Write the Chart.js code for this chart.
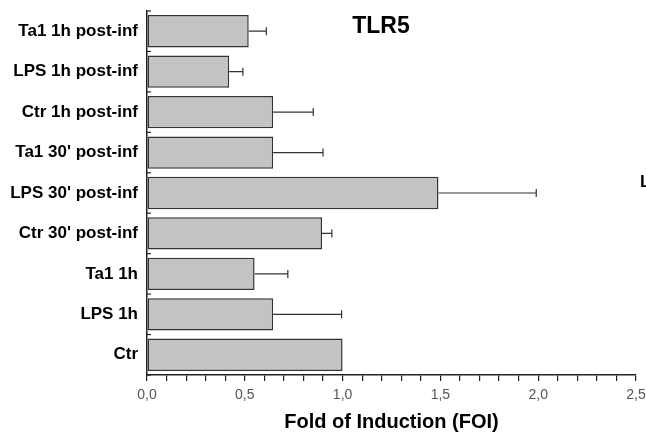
<!DOCTYPE html>
<html>
<head>
<meta charset="utf-8">
<script src="https://cdn.jsdelivr.net/npm/chart.js@4/dist/chart.umd.min.js"></script>
<style>
  html, body { margin: 0; padding: 0; background: #fff; }
  canvas { display: block; }
</style>
</head>
<body>
<canvas id="chart" width="646" height="437"></canvas>
<script>
"use strict";

// data, top to bottom as drawn
var categories = [
    "Ta1 1h post-inf",
    "LPS 1h post-inf",
    "Ctr 1h post-inf",
    "Ta1 30' post-inf",
    "LPS 30' post-inf",
    "Ctr 30' post-inf",
    "Ta1 1h",
    "LPS 1h",
    "Ctr"
];
var foiValues = [0.52, 0.42, 0.645, 0.645, 1.49, 0.895, 0.55, 0.645, 1.0];
var foiErrors = [0.09, 0.07, 0.205, 0.255, 0.50, 0.05, 0.17, 0.35, 0];
var chartTitle = "TLR5";
var axisTitle = "Fold of Induction (FOI)";

var FONT = "'Liberation Sans', Arial, sans-serif";

function commaLabel(v) {
    var half = v * 2;
    if (Math.abs(half - Math.round(half)) > 1e-6) {
        return '';
    }
    return v.toFixed(1).replace('.', ',');
}

// one-sided error bars to the right of each bar
var errorBars = {
    id: 'errorBars',
    afterDatasetsDraw: function(chart) {
        var ctx = chart.ctx,
            xs = chart.scales.x,
            meta = chart.getDatasetMeta(0);
        ctx.save();
        ctx.strokeStyle = '#333';
        ctx.lineWidth = 1.2;
        meta.data.forEach(function(bar, i) {
            if (!foiErrors[i]) return;
            var x0 = xs.getPixelForValue(foiValues[i]);
            var x1 = xs.getPixelForValue(foiValues[i] + foiErrors[i]);
            ctx.beginPath();
            ctx.moveTo(x0, bar.y);
            ctx.lineTo(x1, bar.y);
            ctx.moveTo(x1, bar.y - 4);
            ctx.lineTo(x1, bar.y + 4);
            ctx.stroke();
        });
        ctx.restore();
    }
};

// inward ticks on the category axis, title inside the plot, cropped letter at the edge
var extras = {
    id: 'extras',
    afterDraw: function(chart) {
        var ctx = chart.ctx,
            area = chart.chartArea,
            n = categories.length,
            step = (area.bottom - area.top) / n;
        ctx.save();
        ctx.strokeStyle = '#222';
        ctx.lineWidth = 1.2;
        for (var k = 0; k <= n; k++) {
            var y = area.top + k * step;
            ctx.beginPath();
            ctx.moveTo(area.left, y);
            ctx.lineTo(area.left + 4, y);
            ctx.stroke();
        }
        ctx.fillStyle = '#000';
        ctx.font = 'bold 23px ' + FONT;
        ctx.textAlign = 'center';
        ctx.textBaseline = 'middle';
        ctx.fillText(chartTitle, 381, 27);
        ctx.font = 'bold 17px ' + FONT;
        ctx.textAlign = 'left';
        ctx.fillText('L', 640, 182);
        ctx.restore();
    }
};

var chart = new Chart(document.getElementById('chart'), {
    type: 'bar',
    data: {
        labels: categories,
        datasets: [{
            data: foiValues,
            backgroundColor: '#c3c3c3',
            borderColor: '#333',
            borderWidth: 1.5,
            borderSkipped: false,
            barPercentage: 0.8,
            categoryPercentage: 1.0
        }]
    },
    options: {
        indexAxis: 'y',
        responsive: false,
        devicePixelRatio: 1,
        animation: false,
        layout: { padding: { top: 11, right: 10, bottom: 0, left: 0 } },
        plugins: {
            legend: { display: false },
            tooltip: { enabled: false }
        },
        scales: {
            x: {
                type: 'linear',
                min: 0,
                max: 2.5,
                grid: {
                    drawOnChartArea: false,
                    color: '#222',
                    tickLength: 6,
                    lineWidth: 1.2
                },
                border: { display: true, color: '#222', width: 1.5 },
                ticks: {
                    stepSize: 0.1,
                    autoSkip: false,
                    maxRotation: 0,
                    padding: 6,
                    color: '#555',
                    font: { family: FONT, size: 14 },
                    callback: function(v) { return commaLabel(v); }
                },
                title: {
                    display: true,
                    text: axisTitle,
                    color: '#000',
                    font: { family: FONT, size: 20, weight: 'bold' },
                    padding: { top: 0, bottom: 3 }
                },
                afterFit: function(scale) {
                    scale.height = 62;
                    scale.paddingLeft = 0;
                    scale.paddingRight = 0;
                }
            },
            y: {
                type: 'category',
                offset: true,
                grid: {
                    display: true,
                    drawOnChartArea: false,
                    drawTicks: false,
                    offset: true
                },
                border: { display: true, color: '#222', width: 1.5 },
                ticks: {
                    padding: 9,
                    color: '#000',
                    font: { family: FONT, size: 17, weight: 'bold' }
                },
                afterFit: function(scale) {
                    scale.width = 147;
                    scale.paddingTop = 0;
                    scale.paddingBottom = 0;
                }
            }
        }
    },
    plugins: [errorBars, extras]
});
</script>
</body>
</html>
